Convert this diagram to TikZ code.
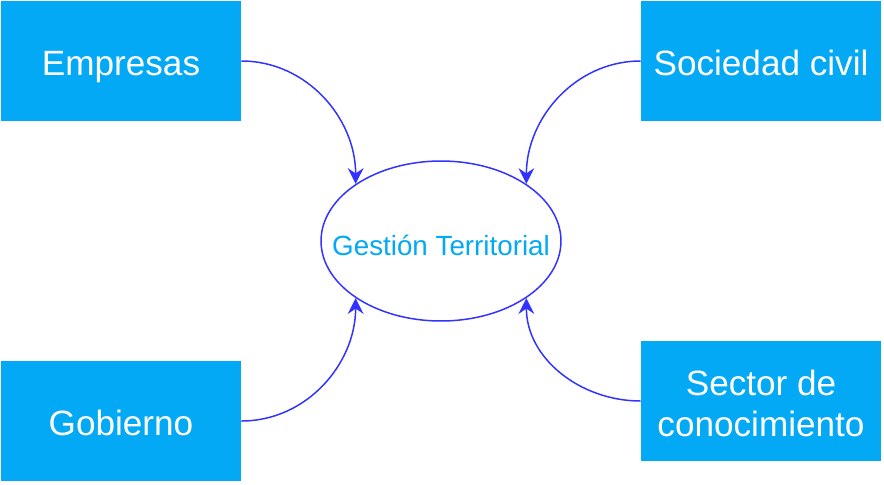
\documentclass[tikz,border=0pt]{standalone}
\usepackage{fontspec}
\setmainfont{Liberation Sans}
\usetikzlibrary{arrows.meta,shapes.geometric}
\definecolor{boxblue}{HTML}{03A9F4}
\definecolor{linkblue}{HTML}{3333FF}
\tikzset{
  actor/.style={fill=boxblue, text=white, minimum width=4.8cm, minimum height=2.4cm,
    inner sep=0pt, align=center, text height=17pt, text depth=0pt,
    font=\fontsize{20}{23.7}\selectfont},
  link/.style={draw=linkblue, line width=0.85pt, -{Stealth[length=9pt,width=9pt,inset=3pt]}}
}

\begin{document}
\begin{tikzpicture}[x=0.02cm, y=-0.02cm]
\useasboundingbox (0, 0) rectangle (884, 484);
\node[draw=linkblue, line width=0.85pt, ellipse, minimum width=4.8cm, minimum height=3.2cm,
  inner sep=0pt, text=boxblue, text height=16pt, text depth=0pt,
  font=\fontsize{15.8}{19}\selectfont] (gt) at (441, 241) {\makebox[0pt]{Gestión Territorial}};
\node[actor] (emp) at (121, 61) {Empresas};
\node[actor] (soc) at (761, 61) {Sociedad civil};
\node[actor] (gob) at (121, 421) {Gobierno};
\node[actor, text height=40.7pt] (sec) at (761, 401) {Sector de\\conocimiento};
\draw[link] (emp.east) to[out=0, in=90] (gt.north west);
\draw[link] (soc.west) to[out=180, in=90] (gt.north east);
\draw[link] (gob.east) to[out=0, in=-90] (gt.south west);
\draw[link] (sec.west) to[out=180, in=-90] (gt.south east);
\end{tikzpicture}
\end{document}
